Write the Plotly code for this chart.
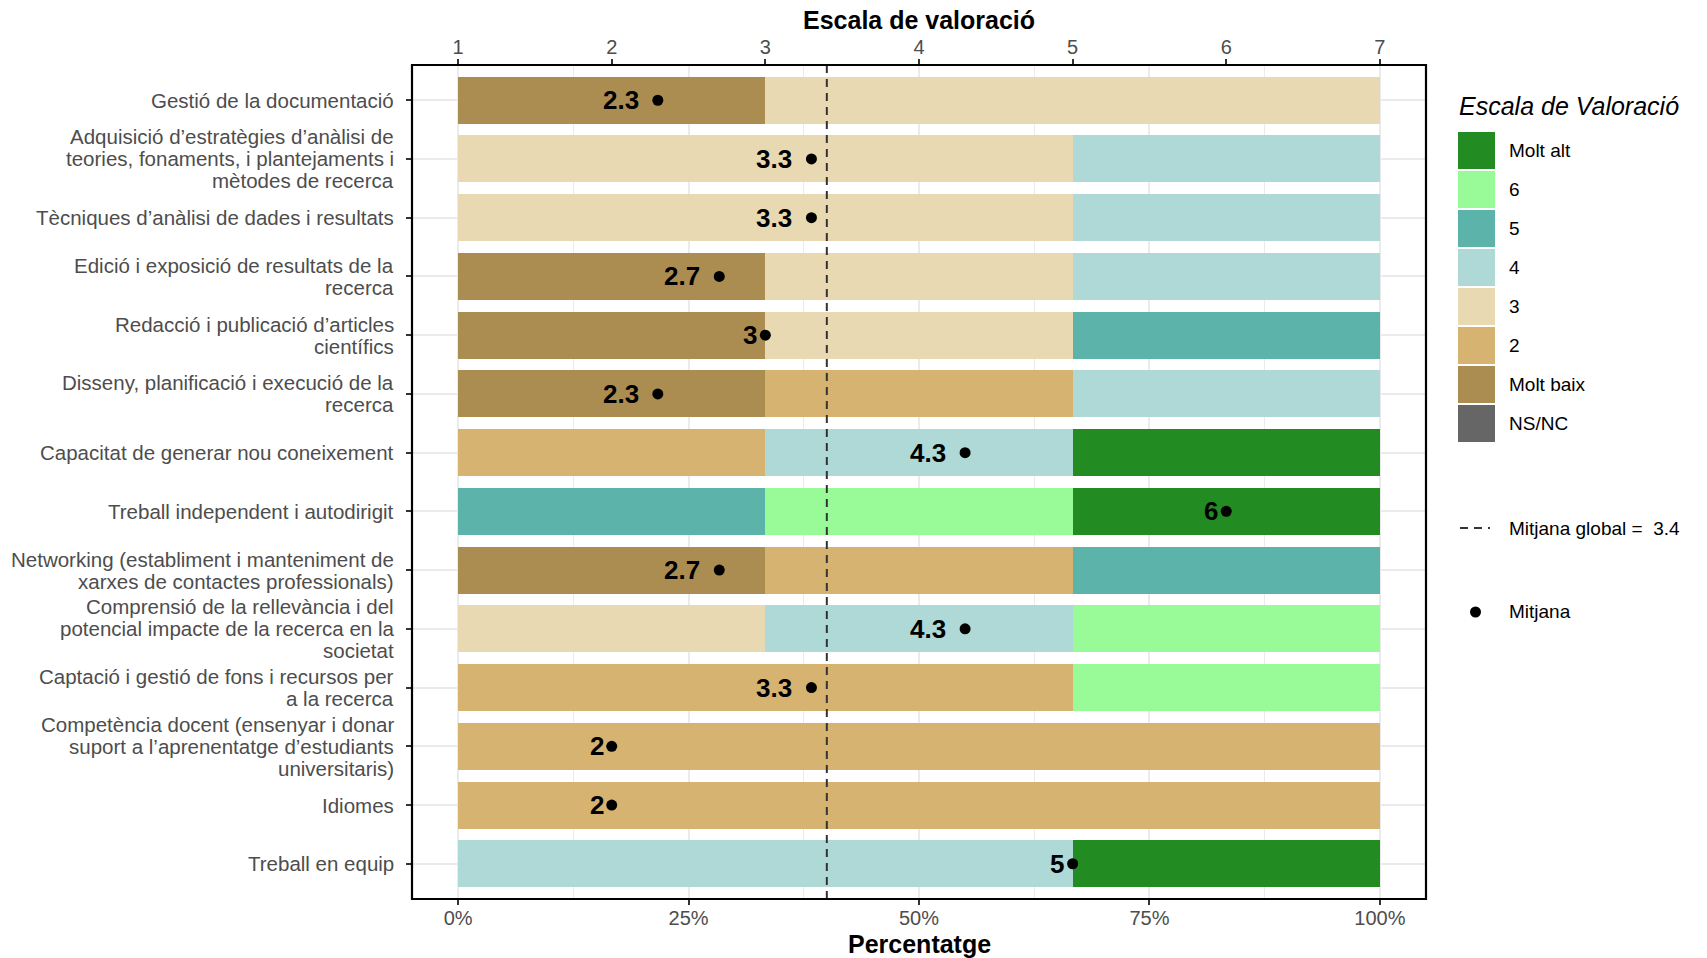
import plotly.graph_objects as go

# ---------------- data ----------------
categories = [
    "Gestió de la documentació",
    "Adquisició d’estratègies d’anàlisi de\nteories, fonaments, i plantejaments i\nmètodes de recerca",
    "Tècniques d’anàlisi de dades i resultats",
    "Edició i exposició de resultats de la\nrecerca",
    "Redacció i publicació d’articles\ncientífics",
    "Disseny, planificació i execució de la\nrecerca",
    "Capacitat de generar nou coneixement",
    "Treball independent i autodirigit",
    "Networking (establiment i manteniment de\nxarxes de contactes professionals)",
    "Comprensió de la rellevància i del\npotencial impacte de la recerca en la\nsocietat",
    "Captació i gestió de fons i recursos per\na la recerca",
    "Competència docent (ensenyar i donar\nsuport a l’aprenentatge d’estudiants\nuniversitaris)",
    "Idiomes",
    "Treball en equip",
]

levels = ["NS/NC", "Molt baix", "2", "3", "4", "5", "6", "Molt alt"]

pct_nsnc     = [0, 0, 0, 0, 0, 0, 0, 0, 0, 0, 0, 0, 0, 0]
pct_moltbaix = [33.33, 0, 0, 33.33, 33.33, 33.33, 0, 0, 33.33, 0, 0, 0, 0, 0]
pct_2        = [0, 0, 0, 0, 0, 33.33, 33.33, 0, 33.33, 0, 66.67, 100, 100, 0]
pct_3        = [66.67, 66.67, 66.67, 33.33, 33.33, 0, 0, 0, 0, 33.33, 0, 0, 0, 0]
pct_4        = [0, 33.33, 33.33, 33.33, 0, 33.34, 33.33, 0, 0, 33.33, 0, 0, 0, 66.67]
pct_5        = [0, 0, 0, 0, 33.34, 0, 0, 33.33, 33.34, 0, 0, 0, 0, 0]
pct_6        = [0, 0, 0, 0, 0, 0, 0, 33.33, 0, 33.34, 33.33, 0, 0, 0]
pct_moltalt  = [0, 0, 0, 0, 0, 0, 33.34, 33.34, 0, 0, 0, 0, 0, 33.33]

means = [2.3, 3.3, 3.3, 2.7, 3, 2.3, 4.3, 6, 2.7, 4.3, 3.3, 2, 2, 5]
mean_labels = ["2.3", "3.3", "3.3", "2.7", "3", "2.3", "4.3", "6", "2.7", "4.3", "3.3", "2", "2", "5"]
global_mean = 3.4

pct_ticks = [0, 25, 50, 75, 100]
pct_ticktext = ["0%", "25%", "50%", "75%", "100%"]
scale_ticks = [1, 2, 3, 4, 5, 6, 7]

# ---------------- style ----------------
colors = {
    "NS/NC": "#666666",
    "Molt baix": "#AC8D51",
    "2": "#D6B370",
    "3": "#E9D9B2",
    "4": "#AED9D6",
    "5": "#5BB3AA",
    "6": "#98FB98",
    "Molt alt": "#228B22",
}
series = {
    "NS/NC": pct_nsnc, "Molt baix": pct_moltbaix, "2": pct_2, "3": pct_3,
    "4": pct_4, "5": pct_5, "6": pct_6, "Molt alt": pct_moltalt,
}

FONT = "Liberation Sans, Arial, Helvetica, sans-serif"
W, H = 1707, 958
L, R, T, B = 412, 1426, 65, 899  # panel pixel box


def px2x(px):
    return (px - L) / (R - L)


def px2y(py):
    return (B - py) / (B - T)


fig = go.Figure()

for lev in levels:
    fig.add_trace(go.Bar(
        y=categories, x=series[lev], orientation="h", name=lev,
        marker=dict(color=colors[lev], line=dict(width=0)),
        showlegend=False, hoverinfo="x+y+name",
    ))

# means on the 1-7 scale (top axis)
fig.add_trace(go.Scatter(
    x=means, y=categories, xaxis="x2", yaxis="y", mode="markers",
    marker=dict(color="black", size=11), showlegend=False,
))

annotations = []
shapes = []

# mean labels (right edge half a label width left of the dot)
LBL_SIZE = 26
cw = {".": 0.278}
for cat, m, lab in zip(categories, means, mean_labels):
    w = sum(cw.get(ch, 0.556) for ch in lab) * LBL_SIZE
    annotations.append(dict(
        x=m, y=cat, xref="x2", yref="y", text="<b>%s</b>" % lab,
        showarrow=False, xanchor="right", yanchor="middle",
        xshift=-0.5 * w + 1, font=dict(family=FONT, size=LBL_SIZE, color="black"),
    ))

# category labels, one annotation per line for tight line spacing
LINE_H = 22
for cat in categories:
    lines = cat.split("\n")
    n = len(lines)
    for i, ln in enumerate(lines):
        annotations.append(dict(
            x=0, y=cat, xref="paper", yref="y", text=ln, showarrow=False,
            xanchor="right", yanchor="middle", xshift=-16,
            yshift=((n - 1) / 2 - i) * LINE_H,
            font=dict(family=FONT, size=20.5, color="#4D4D4D"),
        ))

# axis titles
annotations.append(dict(x=0.5, y=1, xref="paper", yref="paper", text="<b>Escala de valoració</b>",
                        showarrow=False, yanchor="middle", yshift=45,
                        font=dict(family=FONT, size=25, color="black")))
annotations.append(dict(x=0.5, y=0, xref="paper", yref="paper", text="<b>Percentatge</b>",
                        showarrow=False, yanchor="middle", yshift=-45,
                        font=dict(family=FONT, size=25, color="black")))

# global mean dashed line
shapes.append(dict(type="line", xref="x2", yref="paper", x0=global_mean, x1=global_mean,
                   y0=0, y1=1, line=dict(color="#333333", width=2, dash="8px,6px"), layer="above"))

# panel border
shapes.append(dict(type="rect", xref="paper", yref="paper", x0=0, x1=1, y0=0, y1=1,
                   line=dict(color="black", width=2.2), layer="above"))

# ---------------- manual legend ----------------
annotations.append(dict(x=px2x(1457), y=px2y(106), xref="paper", yref="paper",
                        text="<i>Escala de Valoració</i>", showarrow=False,
                        xanchor="left", yanchor="middle",
                        font=dict(family=FONT, size=25, color="black")))
legend_order = ["Molt alt", "6", "5", "4", "3", "2", "Molt baix", "NS/NC"]
for i, lev in enumerate(legend_order):
    top = 132 + 39 * i
    shapes.append(dict(type="rect", xref="paper", yref="paper",
                       x0=px2x(1458), x1=px2x(1495), y0=px2y(top + 37), y1=px2y(top),
                       fillcolor=colors[lev], line=dict(width=0)))
    annotations.append(dict(x=px2x(1507), y=px2y(top + 18.5), xref="paper", yref="paper",
                            text=lev, showarrow=False, xanchor="left", yanchor="middle",
                            font=dict(family=FONT, size=19, color="black")))

shapes.append(dict(type="line", xref="paper", yref="paper", x0=px2x(1460), x1=px2x(1490),
                   y0=px2y(528), y1=px2y(528),
                   line=dict(color="#333333", width=2, dash="8px,6px")))
annotations.append(dict(x=px2x(1507), y=px2y(528), xref="paper", yref="paper",
                        text="Mitjana global =  %s" % global_mean, showarrow=False,
                        xanchor="left", yanchor="middle",
                        font=dict(family=FONT, size=19, color="black")))
shapes.append(dict(type="circle", xref="paper", yref="paper",
                   x0=px2x(1470), x1=px2x(1481), y0=px2y(617.5), y1=px2y(606.5),
                   fillcolor="black", line=dict(width=0)))
annotations.append(dict(x=px2x(1507), y=px2y(612), xref="paper", yref="paper",
                        text="Mitjana", showarrow=False, xanchor="left", yanchor="middle",
                        font=dict(family=FONT, size=19, color="black")))

fig.update_layout(
    width=W, height=H,
    margin=dict(l=L, r=W - R, t=T, b=H - B, autoexpand=False),
    paper_bgcolor="white", plot_bgcolor="white",
    barmode="stack", bargap=0.2,
    font=dict(family=FONT, size=20, color="#4D4D4D"),
    showlegend=False,
    xaxis=dict(
        range=[-5, 105], tickvals=pct_ticks, ticktext=pct_ticktext,
        showgrid=True, gridcolor="#EBEBEB", gridwidth=1.6,
        minor=dict(dtick=12.5, tick0=0, showgrid=True, gridcolor="#EBEBEB", gridwidth=1),
        ticks="outside", ticklen=5, tickwidth=1.5, tickcolor="#333333",
        ticklabelstandoff=-4,
        tickfont=dict(family=FONT, size=20, color="#4D4D4D"),
        zeroline=False, showline=False, fixedrange=True,
    ),
    xaxis2=dict(
        overlaying="x", side="top", anchor="y",
        range=[0.7, 7.3], tickvals=scale_ticks,
        showgrid=False, zeroline=False, showline=False,
        ticks="outside", ticklen=5, tickwidth=1.5, tickcolor="#333333",
        ticklabelstandoff=-3,
        tickfont=dict(family=FONT, size=20, color="#4D4D4D"),
    ),
    yaxis=dict(
        type="category", categoryorder="array", categoryarray=categories,
        range=[len(categories) - 0.4, -0.6],
        showticklabels=False, showgrid=True, gridcolor="#EBEBEB", gridwidth=1.6,
        ticks="outside", ticklen=5, tickwidth=1.5, tickcolor="#333333",
        zeroline=False, showline=False,
    ),
    annotations=annotations,
    shapes=shapes,
)

fig.write_html(
    "out.html",
    config={"displayModeBar": False},
    post_script="document.body.style.margin='0';document.body.style.overflow='hidden';",
)
